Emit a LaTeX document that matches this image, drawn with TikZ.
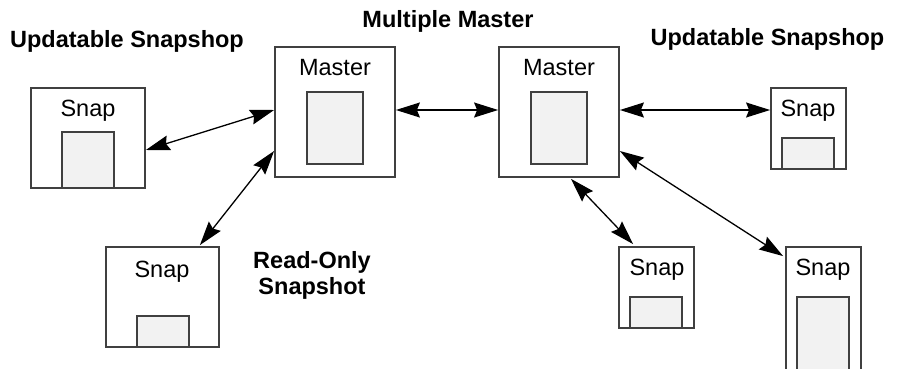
\documentclass[tikz,border=0pt]{standalone}
\usepackage{fontspec}
\setmainfont{Liberation Sans}
\usetikzlibrary{arrows.meta,calc}
\definecolor{boxline}{HTML}{404040}
\definecolor{panel}{HTML}{F2F2F2}
\tikzset{
  site/.style={draw=boxline,line width=1.8pt,fill=white,rectangle,inner sep=0pt},
  store/.style={draw=boxline,line width=1.8pt,fill=panel},
  tag/.style={font=\fontsize{23.5}{26}\selectfont,anchor=base,inner sep=0pt},
  head/.style={font=\fontsize{23.5}{26}\selectfont\bfseries,anchor=base,inner sep=0pt,align=center},
  tip/.style={Stealth[length=24pt,width=15pt,inset=3pt]},
  link/.style={line width=1.3pt,{Stealth[length=24pt,width=15pt,inset=3pt]}-{Stealth[length=24pt,width=15pt,inset=3pt]}}
}
\begin{document}
\begin{tikzpicture}[x=1pt,y=-1pt]
\clip (0,0) rectangle (903,369);
\fill[white] (0,0) rectangle (903,369);

% headings
\node[head] (h1) at (127,48) {Updatable Snapshop};
\node[head] (h2) at (448,28) {Multiple Master};
\node[head] (h3) at (767.5,46) {Updatable Snapshop};
\node[head] (h4) at (312,294) {Read-Only\\[-0.5pt]Snapshot};

% master sites
\node[site,minimum width=120pt,minimum height=130pt] (lm) at (335,112) {};
\node[site,minimum width=120pt,minimum height=130pt] (rm) at (559,112) {};
\draw[store] (307,92) rectangle (363,164);
\draw[store] (531,92) rectangle (587,164);
\node[tag] (lmt) at (335,76) {Master};
\node[tag] (rmt) at (559,76) {Master};

% snapshot sites
\node[site,minimum width=114pt,minimum height=100pt] (ls) at (88,138) {};
\draw[store] (62,132) rectangle (114,188);
\node[tag] (lst) at (88,117) {Snap};

\node[site,minimum width=113pt,minimum height=100pt] (ll) at (162.5,297) {};
\draw[store] (137,316) rectangle (189,347);
\node[tag] (llt) at (162,277) {Snap};

\node[site,minimum width=75pt,minimum height=81pt] (rs) at (808.5,128.5) {};
\draw[store] (782,138) rectangle (834,169);
\node[tag] (rst) at (808,117) {Snap};

\node[site,minimum width=75pt,minimum height=81pt] (ms) at (656.5,287.5) {};
\draw[store] (630,297) rectangle (682,328);
\node[tag] (mst) at (657,275) {Snap};

\node[site,minimum width=75pt,minimum height=150pt] (lr) at (823.5,322) {};
\draw[store] (797,297) rectangle (849,400);
\node[tag] (lrt) at (823,275) {Snap};

% replication links
\draw[link] ([yshift=-12pt]ls.east) -- ([yshift=2pt]lm.west);
\draw[link] ([yshift=-39pt]lm.west) -- ([xshift=-20pt,yshift=1pt]ll.north east);
\draw[link] ([yshift=2pt]lm.east) -- ([yshift=2pt]rm.west);
\draw[link] ([yshift=2pt]rm.east) -- ([yshift=18.5pt]rs.west);
\draw[link] ([yshift=-39pt]rm.east) -- ([xshift=-2pt,yshift=-10pt]lr.north west);
\draw[link] ([xshift=12pt,yshift=-1pt]rm.south) -- ([xshift=15pt,yshift=2pt]ms.north west);
\end{tikzpicture}
\end{document}
